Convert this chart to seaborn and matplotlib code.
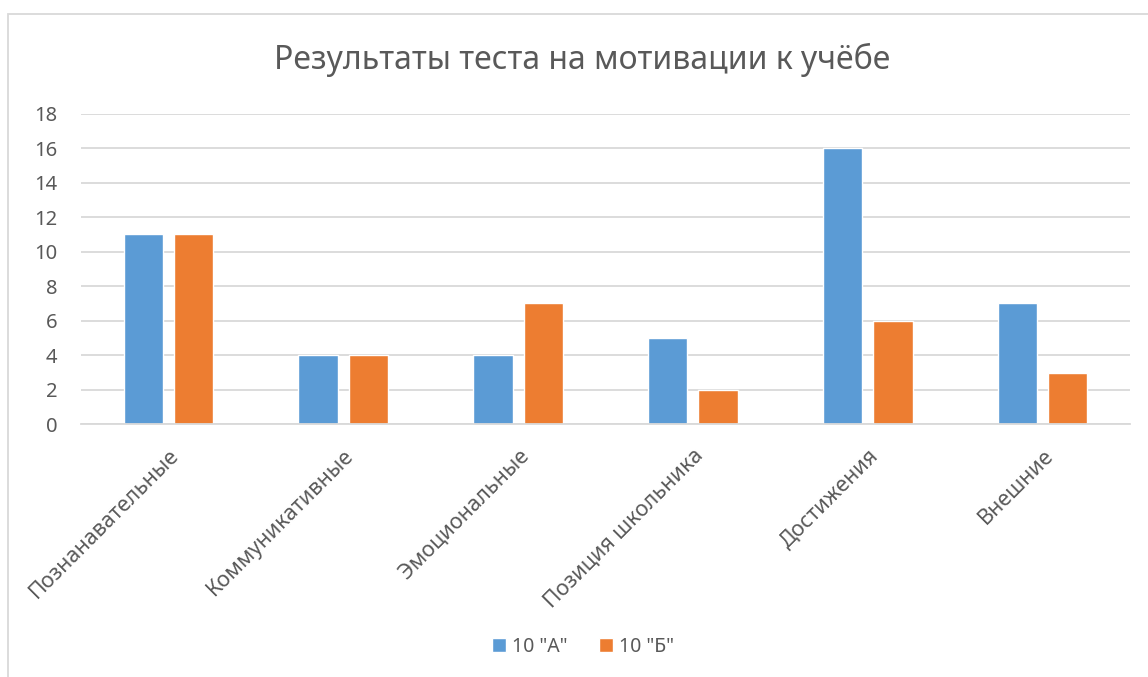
import matplotlib
matplotlib.use("Agg")
import matplotlib.pyplot as plt
from matplotlib.patches import Rectangle
import seaborn as sns
import pandas as pd

categories = ["Познанавательные", "Коммуникативные", "Эмоциональные",
              "Позиция школьника", "Достижения", "Внешние"]
class_a = [11, 4, 4, 5, 16, 7]
class_b = [11, 4, 7, 2, 6, 3]
series_names = ['10 "А"', '10 "Б"']
y_ticks = [0, 2, 4, 6, 8, 10, 12, 14, 16, 18]
title = "Результаты теста на мотивации к учёбе"

df = pd.DataFrame({
    "category": categories * 2,
    "value": class_a + class_b,
    "series": [series_names[0]] * len(categories) + [series_names[1]] * len(categories),
})

sns.set_theme(style="white")
plt.rcParams["font.family"] = ["Noto Sans", "DejaVu Sans"]
text_color = "#595959"
grid_color = "#D9D9D9"

fig = plt.figure(figsize=(11.48, 6.77), dpi=100)
ax = fig.add_axes([81 / 1148, 1 - 424.3 / 677, (1130 - 81) / 1148, (424.3 - 113.6) / 677])

sns.barplot(data=df, x="category", y="value", hue="series", order=categories,
            hue_order=series_names, palette=["#5B9BD5", "#ED7D31"],
            width=0.574, gap=0.216, ax=ax, legend=True, saturation=1)

ax.set_ylim(0, 18)
ax.set_xlim(-0.5, len(categories) - 0.5)
ax.set_yticks(y_ticks)
ax.set_yticklabels([str(t) for t in y_ticks], color=text_color, fontsize=14.5)
ax.yaxis.grid(True, color=grid_color, linewidth=1.3)
ax.set_axisbelow(True)
for s in ["top", "right", "left"]:
    ax.spines[s].set_visible(False)
ax.spines["bottom"].set_color(grid_color)
ax.spines["bottom"].set_linewidth(1.3)
ax.tick_params(axis="y", length=0, pad=17)
ax.tick_params(axis="x", length=0, pad=15)
ax.set_xlabel("")
ax.set_ylabel("")
ax.set_xticks(range(len(categories)))
ax.set_xticklabels(categories, rotation=45, ha="right", rotation_mode="anchor",
                   color=text_color, fontsize=15.5)

leg = ax.legend(loc="center", bbox_to_anchor=(583 / 1148, 1 - 647 / 677),
                bbox_transform=fig.transFigure, ncol=2, frameon=False,
                fontsize=14, handlelength=0.75, handleheight=0.75,
                handletextpad=0.3, columnspacing=1.6)
for t in leg.get_texts():
    t.set_color(text_color)

fig.text(582 / 1148, 1 - 60 / 677, title, ha="center", va="center",
         fontsize=23, color=text_color)

# Chart-area frame
fig.add_artist(Rectangle((7.5 / 1148, -0.1), 1.2, 1 - 13.5 / 677 + 0.1,
                         transform=fig.transFigure, fill=False,
                         edgecolor=grid_color, linewidth=1.3))

fig.savefig("out.png", dpi=100, facecolor="white")
